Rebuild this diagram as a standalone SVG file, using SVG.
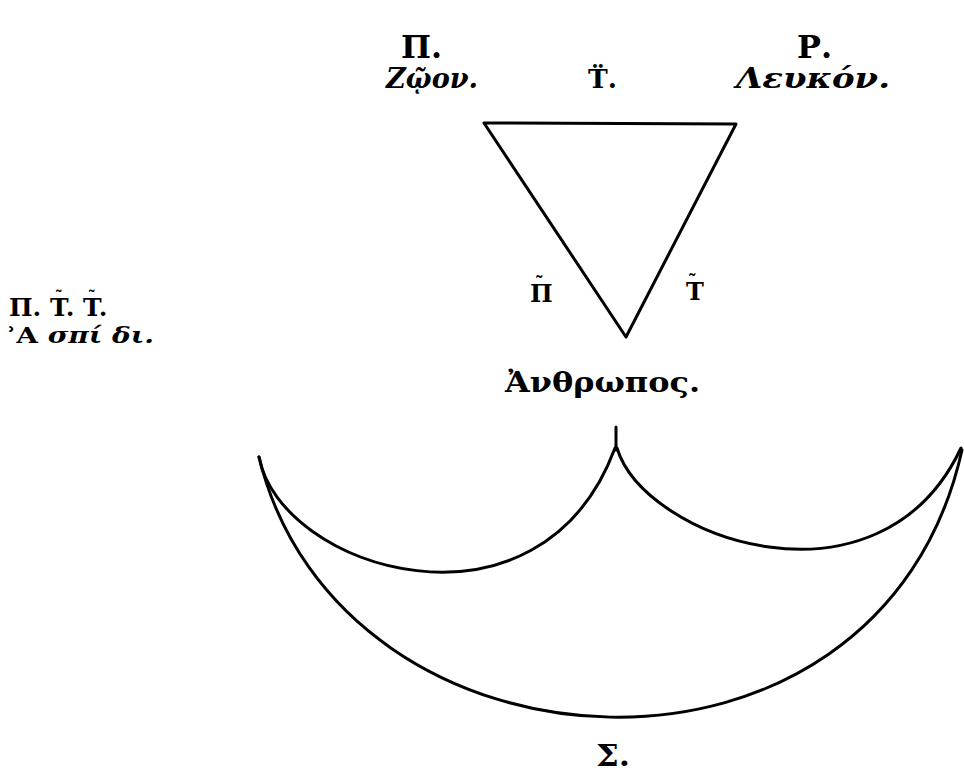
<svg xmlns="http://www.w3.org/2000/svg" width="964" height="776" viewBox="0 0 964 776">
<style>
.t{font-family:"DejaVu Serif","Liberation Serif",serif;font-weight:bold;fill:#000}
.i{font-style:italic}
.ln{fill:none;stroke:#000;stroke-width:3;stroke-linecap:round;stroke-linejoin:round}
</style>
<rect width="964" height="776" fill="#fff"/>
<g id="triangle">
<path class="ln" d="M484 123 L736 124 L626 337 Z"/>
</g>
<g id="node-P">
<text class="t" x="401" y="58" font-size="32" textLength="41" lengthAdjust="spacingAndGlyphs">Π.</text>
<text class="t i" x="386" y="88" font-size="27" textLength="92" lengthAdjust="spacingAndGlyphs">Ζῷον.</text>
</g>
<g id="node-T">
<text class="t" x="588" y="88" font-size="26" textLength="29" lengthAdjust="spacingAndGlyphs">T̈.</text>
</g>
<g id="node-R">
<text class="t" x="797" y="58" font-size="32" textLength="35" lengthAdjust="spacingAndGlyphs">Ρ.</text>
<text class="t i" x="736" y="88" font-size="27" textLength="154" lengthAdjust="spacingAndGlyphs">Λευκόν.</text>
</g>
<g id="side-labels">
<text class="t" x="530" y="302" font-size="24">Π<tspan dx="-18" dy="-12" font-size="18">˜</tspan></text>
<text class="t" x="686" y="300" font-size="24">Τ<tspan dx="-16" dy="-12" font-size="18">˜</tspan></text>
</g>
<g id="node-left">
<text class="t" x="9" y="316" font-size="25">Π. Τ<tspan dx="-14" dy="-13" font-size="16">˜</tspan><tspan dx="3" dy="13">.</tspan> Τ<tspan dx="-14" dy="-13" font-size="16">˜</tspan><tspan dx="3" dy="13">.</tspan></text>
<text class="t" x="6" y="343" font-size="22" textLength="148" lengthAdjust="spacingAndGlyphs">ʾΑ <tspan class="i">σπί δι.</tspan></text>
</g>
<g id="node-A">
<text class="t" x="505" y="392" font-size="28" textLength="195" lengthAdjust="spacingAndGlyphs">Ἀνθρωπος.</text>
</g>
<g id="connectors">
<path class="ln" stroke-width="4.5" d="M616 427 L616 450"/>
<path class="ln" stroke-width="4.5" d="M259 457 C280 570, 540 650, 615 448"/>
<path class="ln" stroke-width="4.5" d="M617 448 C645 540, 880 620, 961 448"/>
<path class="ln" stroke-width="4" d="M259 457 C340 790, 880 820, 962 450"/>
</g>
<g id="node-S">
<text class="t" x="596" y="766" font-size="30" textLength="34" lengthAdjust="spacingAndGlyphs">Σ.</text>
</g>
</svg>
